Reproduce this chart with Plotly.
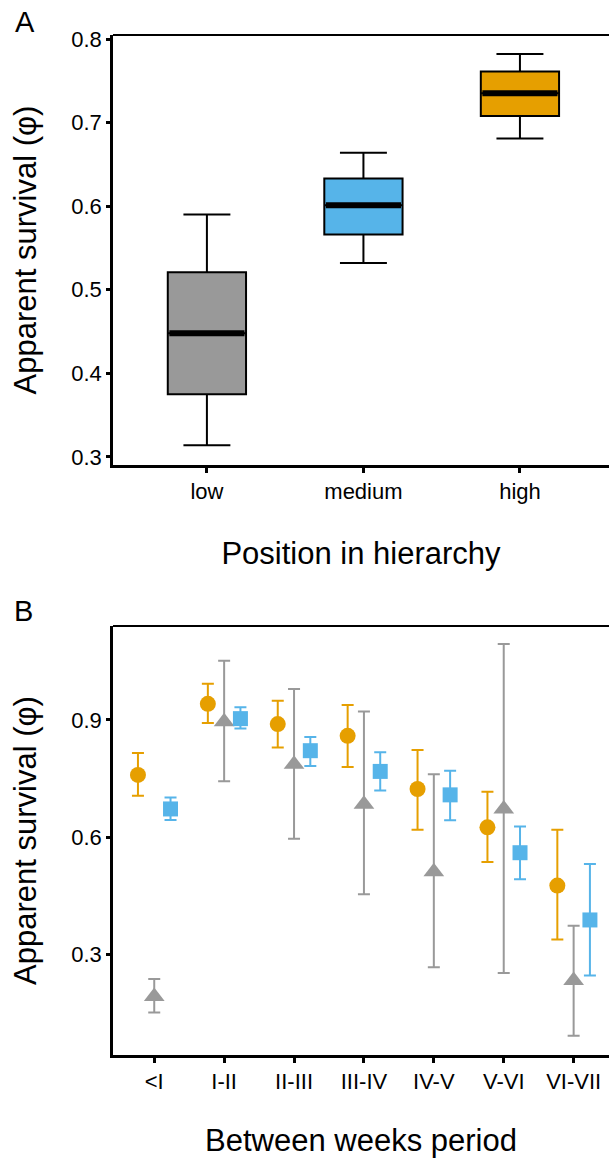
import plotly.graph_objects as go

# ---------------- Data ----------------
# Panel A: apparent survival by position in hierarchy (box summaries)
positions = ["low", "medium", "high"]
box_lower = [0.314, 0.532, 0.681]
box_q1 = [0.375, 0.566, 0.708]
box_median = [0.448, 0.601, 0.735]
box_q3 = [0.521, 0.633, 0.761]
box_upper = [0.590, 0.664, 0.782]

# Panel B: apparent survival between weeks (estimate, lower CI, upper CI)
periods = ["<I", "I-II", "II-III", "III-IV", "IV-V", "V-VI", "VI-VII"]
high_phi = [0.759, 0.941, 0.889, 0.859, 0.723, 0.625, 0.476]
high_lo = [0.706, 0.892, 0.829, 0.779, 0.619, 0.536, 0.338]
high_hi = [0.815, 0.992, 0.949, 0.938, 0.823, 0.716, 0.619]
low_phi = [0.192, 0.895, 0.786, 0.684, 0.511, 0.672, 0.233]
low_lo = [0.151, 0.743, 0.596, 0.454, 0.267, 0.252, 0.092]
low_hi = [0.237, 1.051, 0.979, 0.921, 0.761, 1.094, 0.373]
med_phi = [0.672, 0.903, 0.821, 0.768, 0.708, 0.560, 0.388]
med_lo = [0.644, 0.878, 0.782, 0.719, 0.643, 0.492, 0.246]
med_hi = [0.701, 0.932, 0.856, 0.817, 0.770, 0.627, 0.531]

yticks_A = [0.3, 0.4, 0.5, 0.6, 0.7, 0.8]
yticks_B = [0.3, 0.6, 0.9]

# ---------------- Style ----------------
W, H = 609, 1158
ML = 113  # left margin in px
FONT = "Liberation Sans, Arial, sans-serif"
ORANGE, GREY, BLUE = "#E69F00", "#999999", "#56B4E9"
box_colors = {"low": GREY, "medium": BLUE, "high": ORANGE}
BOX_W = 0.5
DODGE = 0.233

def ydom(top_px, bottom_px):
    return [1 - bottom_px / H, 1 - top_px / H]

def px_to_paper_x(px):
    return (px - ML) / (W - ML)

fig = go.Figure()

# Panel A boxes
for i, p in enumerate(positions):
    fig.add_trace(go.Box(
        x=[p], q1=[box_q1[i]], median=[box_median[i]], q3=[box_q3[i]],
        lowerfence=[box_lower[i]], upperfence=[box_upper[i]],
        fillcolor=box_colors[p], line=dict(color="black", width=2),
        width=BOX_W, whiskerwidth=0.6, xaxis="x", yaxis="y",
        showlegend=False, hoverinfo="skip", boxpoints=False,
    ))

shapes = []
# thick median bars
for i, p in enumerate(positions):
    shapes.append(dict(type="line", xref="x", yref="y",
                       x0=i - BOX_W / 2 + 0.01, x1=i + BOX_W / 2 - 0.01,
                       y0=box_median[i], y1=box_median[i],
                       line=dict(color="black", width=6), layer="above"))

# Panel B points with error bars
series = [
    (high_phi, high_lo, high_hi, ORANGE, "circle", 16, -DODGE),
    (low_phi, low_lo, low_hi, GREY, "triangle-up", 18, 0.0),
    (med_phi, med_lo, med_hi, BLUE, "square", 15, DODGE),
]
for phi, lo, hi, col, sym, size, off in series:
    fig.add_trace(go.Scatter(
        x=[i + off for i in range(len(periods))], y=phi, mode="markers",
        marker=dict(symbol=sym, size=size, color=col, line=dict(width=0)),
        error_y=dict(type="data", symmetric=False,
                     array=[h - v for h, v in zip(hi, phi)],
                     arrayminus=[v - l for v, l in zip(phi, lo)],
                     color=col, thickness=2, width=6),
        xaxis="x2", yaxis="y2", showlegend=False, hoverinfo="skip",
    ))

# top border lines of each panel
for xr, yr in (("x domain", "y domain"), ("x2 domain", "y2 domain")):
    shapes.append(dict(type="line", xref=xr, yref=yr, x0=0, x1=1, y0=1, y1=1,
                       line=dict(color="black", width=2)))

axis_common = dict(showline=True, linecolor="black", linewidth=2.5,
                   ticks="outside", ticklen=5, tickwidth=2.5, tickcolor="black",
                   showgrid=False, zeroline=False, automargin=False,
                   tickfont=dict(family=FONT, size=22, color="black"))

title_font = dict(family=FONT, size=31, color="black")

fig.update_layout(
    width=W, height=H,
    margin=dict(l=ML, r=0, t=0, b=0),
    paper_bgcolor="white", plot_bgcolor="white",
    font=dict(family=FONT, color="black"),
    showlegend=False,
    xaxis=dict(axis_common, domain=[0, 1], anchor="y", type="category",
               categoryorder="array", categoryarray=positions,
               range=[-0.6, 2.569],
               title=dict(text="Position in hierarchy", font=title_font,
                          standoff=40)),
    yaxis=dict(axis_common, domain=ydom(35, 465), anchor="x",
               range=[0.2904, 0.8048], tickvals=yticks_A,
               ticktext=[f"{v:.1f}" for v in yticks_A], ticklen=4,
               title=dict(text="Apparent survival (φ)", font=title_font,
                          standoff=26)),
    xaxis2=dict(axis_common, domain=[0, 1], anchor="y2",
                range=[-0.59, 6.506], tickvals=list(range(len(periods))),
                ticktext=periods,
                title=dict(text="Between weeks period", font=title_font,
                           standoff=42)),
    yaxis2=dict(axis_common, domain=ydom(626, 1055), anchor="x2",
                range=[0.0425, 1.140], tickvals=yticks_B,
                ticktext=[f"{v:.1f}" for v in yticks_B], ticklen=4,
                title=dict(text="Apparent survival (φ)", font=title_font,
                           standoff=26)),
    shapes=shapes,
    annotations=[
        dict(text="A", x=px_to_paper_x(13), y=1 - 4 / H, xref="paper",
             yref="paper", xanchor="left", yanchor="top", showarrow=False,
             font=dict(family=FONT, size=29, color="black")),
        dict(text="B", x=px_to_paper_x(12), y=1 - 593 / H, xref="paper",
             yref="paper", xanchor="left", yanchor="top", showarrow=False,
             font=dict(family=FONT, size=29, color="black")),
    ],
)

fig.write_html("out.html")
